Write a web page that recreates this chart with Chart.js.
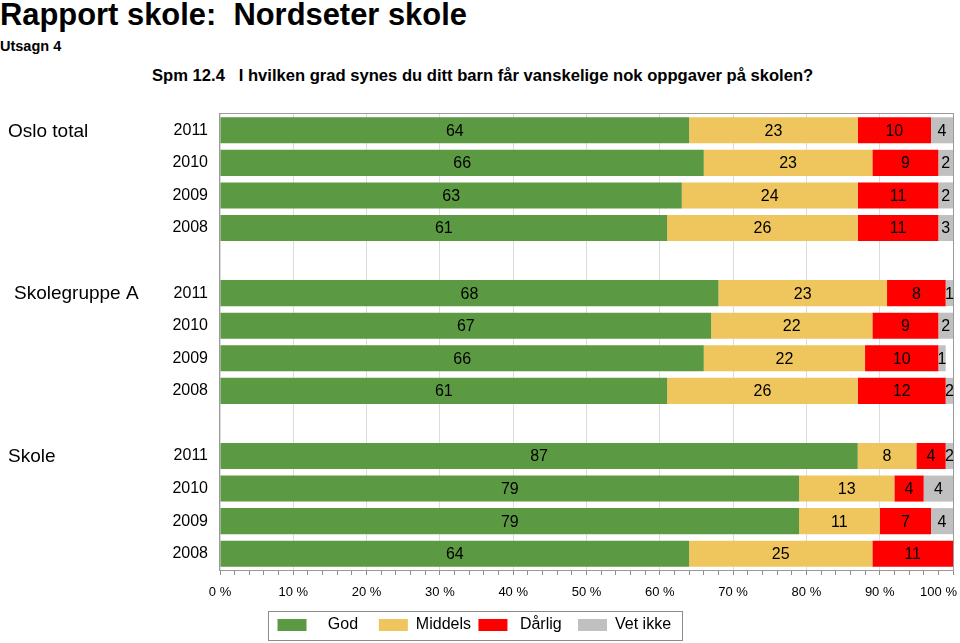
<!DOCTYPE html>
<html lang="no">
<head>
<meta charset="utf-8">
<title>Rapport skole: Nordseter skole</title>
<script src="https://cdn.jsdelivr.net/npm/chart.js@4.4.1/dist/chart.umd.min.js"></script>
<style>
  html, body { margin: 0; padding: 0; background: #fff; }
  body {
    width: 960px; height: 643px; position: relative; overflow: hidden;
    font-family: "Liberation Sans", Arial, Helvetica, sans-serif; color: #000;
  }
  .head { position: absolute; font-weight: bold; white-space: pre; line-height: 1; }
  #title { left: 0; top: 0; font-size: 30.9px; }
  #utsagn { left: 0; top: 39px; font-size: 14.5px; }
  #question { left: 152px; top: 68px; font-size: 16.6px; }
  #chart { position: absolute; left: 0; top: 0; }
</style>
</head>
<body>
<div class="head" id="title">Rapport skole:  Nordseter skole</div>
<div class="head" id="utsagn">Utsagn 4</div>
<div class="head" id="question">Spm 12.4   I hvilken grad synes du ditt barn får vanskelige nok oppgaver på skolen?</div>
<canvas id="chart" width="960" height="643"></canvas>
<script>
"use strict";

// rader (tom rad = mellomrom mellom gruppene)
const rowLabels = [
  "2011", "2010", "2009", "2008", "",
  "2011", "2010", "2009", "2008", "",
  "2011", "2010", "2009", "2008",
];
const groupLabels = [
  "Oslo total", "", "", "", "",
  "Skolegruppe A", "", "", "", "",
  "Skole", "", "", "",
];

const seriesNames = ["God", "Middels", "Dårlig", "Vet ikke"];
const god = [64, 66, 63, 61, null, 68, 67, 66, 61, null, 87, 79, 79, 64];
const middels = [23, 23, 24, 26, null, 23, 22, 22, 26, null, 8, 13, 11, 25];
const darlig = [10, 9, 11, 11, null, 8, 9, 10, 12, null, 4, 4, 7, 11];
const vetIkke = [4, 2, 2, 3, null, 1, 2, 1, 2, null, 2, 4, 4, null];

const xTickLabels = [
  "0 %", "10 %", "20 %", "30 %", "40 %", "50 %",
  "60 %", "70 %", "80 %", "90 %", "100 %",
];

const colors = ["#5B9A42", "#EEC65D", "#FF0000", "#C0C0C0"];
const fontFamily = "'Liberation Sans', Arial, Helvetica, sans-serif";

const main = () => {
  const canvas = document.getElementById("chart");
  if (!(canvas instanceof HTMLCanvasElement)) throw new Error();

  Chart.defaults.font.family = fontFamily;
  Chart.defaults.color = "#000";

  const seriesValues = [god, middels, darlig, vetIkke];

  const legendFontSize = 16;
  const legendBoxWidth = 29;
  const legendPadding = 3;
  // plass mellom en boks og neste boks, teksten sentreres i den
  const legendTextSlot = 71;

  /** @type {(ctx: CanvasRenderingContext2D, text: string) => string} */
  const centerInSlot = (ctx, text) => {
    ctx.save();
    ctx.font = `${legendFontSize}px ${fontFamily}`;
    const w = ctx.measureText(text).width;
    const space = ctx.measureText(" ").width;
    ctx.restore();
    const gap = legendFontSize / 2;
    const lead = Math.max(0, Math.round(((legendTextSlot - w) / 2 - gap) / space));
    const total = legendTextSlot - gap - legendPadding;
    const trail = Math.max(0, Math.round((total - w - lead * space) / space));
    return " ".repeat(lead) + text + " ".repeat(trail);
  };

  /** ramme rundt plottet */
  const plotFrame = {
    id: "plotFrame",
    beforeDatasetsDraw: (chart) => {
      const { ctx, chartArea: a } = chart;
      ctx.save();
      ctx.strokeStyle = "#9a9a9a";
      ctx.lineWidth = 1;
      ctx.strokeRect(a.left - 0.5, a.top - 0.5, a.width + 1, a.height + 1);
      ctx.restore();
    },
  };

  /** tall midt i hvert segment */
  const valueLabels = {
    id: "valueLabels",
    afterDatasetsDraw: (chart) => {
      const { ctx, chartArea: a } = chart;
      ctx.save();
      ctx.font = `16px ${fontFamily}`;
      ctx.fillStyle = "#000";
      ctx.textAlign = "center";
      ctx.textBaseline = "middle";
      chart.data.datasets.forEach((dataset, i) => {
        chart.getDatasetMeta(i).data.forEach((bar, j) => {
          const value = dataset.data[j];
          if (value == null || value === 0) return;
          const { x, y, base } = bar.getProps(["x", "y", "base"], true);
          const start = Math.max(Math.min(x, base), a.left);
          const end = Math.min(Math.max(x, base), a.right);
          ctx.fillText(String(value), (start + end) / 2, y + 1);
        });
      });
      ctx.restore();
    },
  };

  /** gruppenavn til venstre */
  const groupTitles = {
    id: "groupTitles",
    afterDraw: (chart) => {
      const { ctx } = chart;
      const yScale = chart.scales.y;
      ctx.save();
      ctx.font = `19px ${fontFamily}`;
      ctx.fillStyle = "#000";
      ctx.textAlign = "left";
      ctx.textBaseline = "middle";
      groupLabels.forEach((label, i) => {
        if (!label) return;
        ctx.fillText(label, i === 5 ? 14 : 8, yScale.getPixelForValue(i) + 1);
      });
      ctx.restore();
    },
  };

  /** ramme rundt forklaringen */
  const legendFrame = {
    id: "legendFrame",
    afterDraw: (chart) => {
      const boxes = chart.legend?.legendHitBoxes;
      if (!boxes || boxes.length === 0) return;
      const { ctx } = chart;
      const left = Math.min(...boxes.map((b) => b.left)) - 10;
      const right = Math.max(...boxes.map((b) => b.left + b.width)) + 6;
      const mid = boxes[0].top + boxes[0].height / 2;
      ctx.save();
      ctx.strokeStyle = "#8c8c8c";
      ctx.lineWidth = 1;
      ctx.strokeRect(Math.round(left) + 0.5, Math.round(mid - 14) + 0.5, Math.round(right - left), 29);
      ctx.restore();
    },
  };

  new Chart(canvas, {
    type: "bar",
    data: {
      labels: rowLabels,
      datasets: seriesNames.map((name, i) => ({
        label: name,
        data: seriesValues[i],
        backgroundColor: colors[i],
        borderWidth: 0,
        barPercentage: 0.8,
        categoryPercentage: 1,
      })),
    },
    options: {
      indexAxis: "y",
      responsive: false,
      animation: false,
      layout: {
        autoPadding: false,
        padding: { top: 114, right: 7, bottom: 0, left: 0 },
      },
      scales: {
        x: {
          stacked: true,
          min: 0,
          max: 100,
          border: { display: false },
          grid: {
            color: (c) =>
              c.tick && Math.round(c.tick.value) % 10 === 0 ? "#dcdcdc" : "rgba(0,0,0,0)",
            tickColor: "#8c8c8c",
            tickLength: 5,
          },
          ticks: {
            stepSize: 2,
            autoSkip: false,
            maxRotation: 0,
            padding: 10,
            font: { size: 13 },
            callback: (value) => {
              const v = Math.round(value);
              if (v % 10 !== 0) return "";
              const label = xTickLabels[v / 10];
              // siste etikett flyttes inn, slik som i originalen
              return v === 100 ? `${label}        ` : label;
            },
          },
          afterFit: (scale) => {
            scale.height = 44;
            scale.paddingLeft = 0;
            scale.paddingRight = 0;
          },
        },
        y: {
          stacked: true,
          grid: { display: false, drawTicks: false },
          border: { display: false },
          ticks: { autoSkip: false, padding: 12, font: { size: 16 } },
          afterFit: (scale) => {
            scale.width = 220;
            scale.paddingTop = 0;
            scale.paddingBottom = 0;
          },
        },
      },
      plugins: {
        legend: {
          position: "bottom",
          labels: {
            boxWidth: legendBoxWidth,
            boxHeight: 12,
            padding: legendPadding,
            font: { size: legendFontSize },
            generateLabels: (chart) =>
              Chart.defaults.plugins.legend.labels
                .generateLabels(chart)
                .map((item) => ({ ...item, text: centerInSlot(chart.ctx, item.text) })),
          },
        },
        tooltip: { enabled: false },
      },
    },
    plugins: [plotFrame, valueLabels, groupTitles, legendFrame],
  });
};

main();
</script>
</body>
</html>
